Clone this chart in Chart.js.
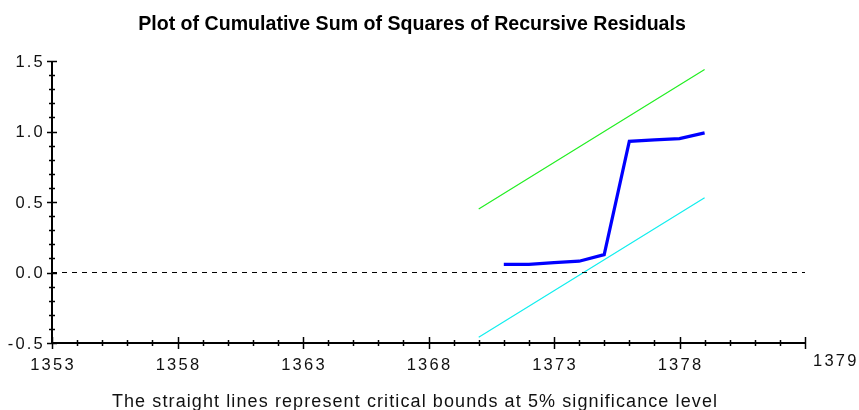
<!DOCTYPE html>
<html>
<head>
<meta charset="utf-8">
<script src="https://cdn.jsdelivr.net/npm/chart.js@4.4.1/dist/chart.umd.min.js"></script>
<style>
  html, body { margin: 0; padding: 0; background: #fff; }
  #wrap { width: 859px; height: 410px; position: relative; }
</style>
</head>
<body>
<div id="wrap"><canvas id="myChart" width="859" height="410"></canvas></div>
<script>
// bounds are drawn for the last years only
const boundYears = [1370, 1371, 1372, 1373, 1374, 1375, 1376, 1377, 1378, 1379];
const upperBound = [0.45, 0.56, 0.67, 0.78, 0.89, 1.00, 1.11, 1.22, 1.33, 1.44];
const lowerBound = [-0.46, -0.35, -0.24, -0.13, -0.02, 0.09, 0.20, 0.31, 0.42, 0.53];

const cusumYears = [1371, 1372, 1373, 1374, 1375, 1376, 1377, 1378, 1379];
const cusumSq = [0.057, 0.057, 0.07, 0.08, 0.127, 0.93, 0.94, 0.95, 0.99];

const zeroYears = [1353, 1383];
const zeroLine = [0, 0];

const xTickLabels = ['1353', '1358', '1363', '1368', '1373', '1378'];
const xEndLabel = '1379';
const yTickLabels = ['-0.5', '0.0', '0.5', '1.0', '1.5'];

const titleText = 'Plot of Cumulative Sum of Squares of Recursive Residuals';
const footText = 'The straight lines represent critical bounds at 5% significance level';

function toPoints(xs, ys) {
    return xs.map((x, i) => ({ x: x, y: ys[i] }));
}

const axesPlugin = {
    id: 'axesPlugin',
    afterDraw(chart) {
        const ctx = chart.ctx;
        const xs = chart.scales.x;
        const ys = chart.scales.y;
        const left = xs.getPixelForValue(1353);
        const right = xs.getPixelForValue(1383);
        const top = ys.getPixelForValue(1.5);
        const bottom = ys.getPixelForValue(-0.5);
        ctx.save();
        ctx.strokeStyle = '#000';
        ctx.lineWidth = 2;
        ctx.beginPath();
        ctx.moveTo(left, top);
        ctx.lineTo(left, bottom);
        ctx.lineTo(right, bottom);
        ctx.stroke();

        // x ticks
        ctx.lineWidth = 1.5;
        for (let yr = 1353; yr <= 1383; yr++) {
            const px = Math.round(xs.getPixelForValue(yr)) + 0.5;
            const len = (yr - 1353) % 5 === 0 ? 6 : 3;
            ctx.beginPath();
            ctx.moveTo(px, bottom - len);
            ctx.lineTo(px, bottom + len);
            ctx.stroke();
        }
        // y ticks
        for (let k = -5; k <= 15; k++) {
            const py = Math.round(ys.getPixelForValue(k / 10)) + 0.5;
            const len = k % 5 === 0 ? 5 : 3;
            ctx.beginPath();
            ctx.moveTo(left - len, py);
            ctx.lineTo(left + len, py);
            ctx.stroke();
        }

        ctx.fillStyle = '#111';
        ctx.font = '16.5px "Liberation Sans", Arial, sans-serif';
        ctx.letterSpacing = '2.2px';
        ctx.textBaseline = 'middle';
        ctx.textAlign = 'center';
        xTickLabels.forEach(lab => {
            const px = xs.getPixelForValue(Number(lab));
            ctx.fillText(lab, px + 1, bottom + 22);
        });
        ctx.textAlign = 'left';
        ctx.fillText(xEndLabel, right + 8, bottom + 18);

        ctx.textAlign = 'right';
        yTickLabels.forEach(lab => {
            const py = ys.getPixelForValue(Number(lab));
            ctx.fillText(lab, left - 7, py + 1);
        });

        ctx.letterSpacing = '0px';
        ctx.textAlign = 'center';
        ctx.textBaseline = 'alphabetic';
        ctx.fillStyle = '#000';
        ctx.font = 'bold 19.6px "Liberation Sans Narrow", "Liberation Sans", Arial, sans-serif';
        ctx.fillText(titleText, 412, 30);

        ctx.fillStyle = '#111';
        ctx.font = '18px "Liberation Sans", Arial, sans-serif';
        ctx.letterSpacing = '1.1px';
        ctx.fillText(footText, 415, 407);
        ctx.restore();
    }
};

const ctx = document.getElementById('myChart').getContext('2d');
const myChart = new Chart(ctx, {
    type: 'line',
    data: {
        datasets: [
            {
                label: 'zero',
                data: toPoints(zeroYears, zeroLine),
                borderColor: '#000',
                borderWidth: 1,
                borderDash: [5, 5],
                pointRadius: 0
            },
            {
                label: 'Upper bound',
                data: toPoints(boundYears, upperBound),
                borderColor: '#22ee22',
                borderWidth: 1.2,
                pointRadius: 0
            },
            {
                label: 'Lower bound',
                data: toPoints(boundYears, lowerBound),
                borderColor: '#11eeee',
                borderWidth: 1.2,
                pointRadius: 0
            },
            {
                label: 'CUSUM of squares',
                data: toPoints(cusumYears, cusumSq),
                borderColor: '#0000ff',
                borderWidth: 3.2,
                pointRadius: 0,
                borderJoinStyle: 'miter'
            }
        ]
    },
    options: {
        responsive: false,
        animation: false,
        layout: {
            padding: { left: 52, right: 54, top: 61, bottom: 67 }
        },
        plugins: {
            legend: { display: false },
            tooltip: { enabled: false },
            title: { display: false }
        },
        scales: {
            x: { type: 'linear', min: 1353, max: 1383, display: false },
            y: { type: 'linear', min: -0.5, max: 1.5, display: false }
        }
    },
    plugins: [axesPlugin]
});
</script>
</body>
</html>
